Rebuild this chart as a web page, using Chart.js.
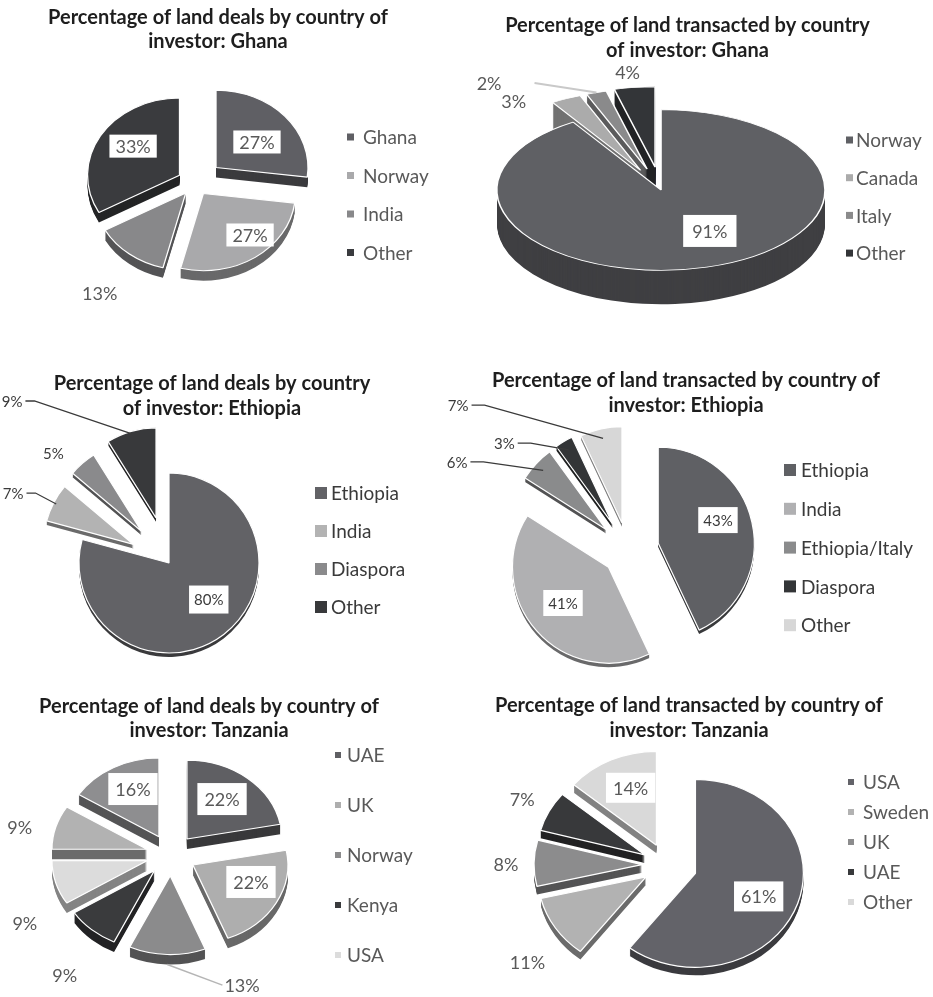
<!DOCTYPE html>
<html>
<head>
<meta charset="utf-8">
<title>Land deals by country of investor</title>
<script src="https://cdn.jsdelivr.net/npm/chart.js@4.4.1/dist/chart.umd.min.js"></script>
<style>
  html, body { margin: 0; padding: 0; background: #ffffff; width: 933px; height: 997px; overflow: hidden; }
  canvas { position: absolute; left: 0; top: 0; }
</style>
</head>
<body>
<canvas id="ghanaDeals" width="933" height="997"></canvas>
<canvas id="ghanaLand" width="933" height="997"></canvas>
<canvas id="ethiopiaDeals" width="933" height="997"></canvas>
<canvas id="ethiopiaLand" width="933" height="997"></canvas>
<canvas id="tanzaniaDeals" width="933" height="997"></canvas>
<canvas id="tanzaniaLand" width="933" height="997"></canvas>
<script>
// ---------- data (percentages) ----------
const ghanaDealsCats = ['Ghana', 'Norway', 'India', 'Other'];
const ghanaDealsPct = [27, 27, 13, 33];

const ghanaLandCats = ['Norway', 'Canada', 'Italy', 'Other'];
const ghanaLandPct = [91, 3, 2, 4];

const ethiopiaDealsCats = ['Ethiopia', 'India', 'Diaspora', 'Other'];
const ethiopiaDealsPct = [80, 7, 5, 9];

const ethiopiaLandCats = ['Ethiopia', 'India', 'Ethiopia/Italy', 'Diaspora', 'Other'];
const ethiopiaLandPct = [43, 41, 6, 3, 7];

// the last two categories are not listed in the legend
const tanzaniaDealsCats = ['UAE', 'UK', 'Norway', 'Kenya', 'USA', 'Other (a)', 'Other (b)'];
const tanzaniaDealsPct = [22, 22, 13, 9, 9, 9, 16];

const tanzaniaLandCats = ['USA', 'Sweden', 'UK', 'UAE', 'Other'];
const tanzaniaLandPct = [61, 11, 8, 7, 14];

// ---------- titles ----------
const ghanaDealsTitle = ['Percentage of land deals by country of', 'investor: Ghana'];
const ghanaLandTitle = ['Percentage of land transacted by country', 'of investor: Ghana'];
const ethiopiaDealsTitle = ['Percentage of land deals by country', 'of investor: Ethiopia'];
const ethiopiaLandTitle = ['Percentage of land transacted by country of', 'investor: Ethiopia'];
const tanzaniaDealsTitle = ['Percentage of land deals by country of', 'investor: Tanzania'];
const tanzaniaLandTitle = ['Percentage of land transacted by country of', 'investor: Tanzania'];

// ---------- presentation ----------
const W = 933, H = 997;
const FONT = 'Lato, "Open Sans", "DejaVu Sans", sans-serif';
const TITLE_COLOR = '#1e1e1e';
const GREY_TEXT = '#595959';
const DARK_TEXT = '#3a3a3a';

// label placement: [fraction of radius, angle shift in degrees] from each exploded slice centre
const specs = [
  {
    id: 'ghanaDeals', cats: ghanaDealsCats, values: ghanaDealsPct,
    fills: ['#5f5f64', '#a9a9ab', '#88888a', '#3a3b3e'],
    cx: 195, cy: 183, r: 92, tilt: 0.84, depth: 10, sideShade: 0.62,
    explode: [28, 15, 15, 18], border: 1.3,
    title: { lines: ghanaDealsTitle, x: 218, y: 23.5, lh: 24.3, size: 20 },
    labels: { size: 18, color: GREY_TEXT, at: [[0.554, 4.9], [0.739, -9.1], [1.6, -2], [0.63, 6.2]],
              boxed: [1, 1, 0, 1], leader: [0, 0, 0, 0], padX: 6, boxH: 23 },
    legend: { x: 347, textX: 363, y: 137, step: 38.5, box: 7, size: 19, color: GREY_TEXT }
  },
  {
    id: 'ghanaLand', cats: ghanaLandCats, values: ghanaLandPct,
    fills: ['#5f6064', '#ababab', '#8a8a8b', '#333538'],
    cx: 661, cy: 190, r: 164, tilt: 0.49, depth: 34, sideShade: 0.66,
    explode: [0, 45, 45, 47], border: 1.6,
    title: { lines: ghanaLandTitle, x: 687.5, y: 32.3, lh: 25, size: 20 },
    labels: { size: 18, color: GREY_TEXT, at: [[0.59, -14.1], [1.16, -14.8], [1.44, -24], [1.19, -0.9]],
              boxed: [1, 0, 0, 0], leader: [0, 0, 1, 0], leaderColor: '#c9c9c9', leaderWidth: 2,
              hook: 0, gap: 33, leaderEnd: 1.0, padX: 9, boxH: 32 },
    legend: { x: 846, textX: 856, y: 140, step: 37.7, box: 7, size: 19, color: GREY_TEXT }
  },
  {
    id: 'ethiopiaDeals', cats: ethiopiaDealsCats, values: ethiopiaDealsPct,
    fills: ['#626266', '#b3b3b3', '#8a8a8c', '#38393b'],
    cx: 169, cy: 563, r: 90, tilt: 1, depth: 4, sideShade: 0.6,
    explode: [0, 40, 42, 47], border: 1.2,
    title: { lines: ethiopiaDealsTitle, x: 212, y: 390, lh: 25, size: 20 },
    labels: { size: 15, color: DARK_TEXT, at: [[0.6, -10], [1.455, -4.5], [1.31, -7.4], [2.06, -34.9]],
              boxed: [1, 0, 0, 0], leader: [0, 1, 0, 1], leaderColor: '#3a3a3a', leaderWidth: 1.3,
              hook: 9, gap: 3, leaderEnd: 0.97, padX: 5, boxH: 28 },
    legend: { x: 315, textX: 331, y: 493, step: 38, box: 12, size: 19, color: DARK_TEXT }
  },
  {
    id: 'ethiopiaLand', cats: ethiopiaLandCats, values: ethiopiaLandPct,
    fills: ['#5f6064', '#b0b0b2', '#8a8b8c', '#333537', '#d7d7d7'],
    cx: 628, cy: 550, r: 96, tilt: 1, depth: 4, sideShade: 0.6,
    explode: [31, 26, 30, 30, 28], border: 1.2,
    title: { lines: ethiopiaLandTitle, x: 686, y: 387, lh: 25, size: 20 },
    labels: { size: 15, color: DARK_TEXT,
              at: [[0.667, -8.6], [0.603, 3.2], [1.705, -18.8], [1.41, -22.6], [2.1, -41.7]],
              boxed: [1, 1, 0, 0, 0], leader: [0, 0, 1, 1, 1], leaderColor: '#3a3a3a', leaderWidth: 1.3,
              hook: 13, gap: 3, leaderEnd: 0.9, padX: 5, boxH: 26 },
    legend: { x: 784, textX: 801, y: 470, step: 38.8, box: 12, size: 19, color: DARK_TEXT }
  },
  {
    id: 'tanzaniaDeals', cats: tanzaniaDealsCats, values: tanzaniaDealsPct,
    fills: ['#5f5f63', '#aeaeae', '#8b8b8c', '#3a3b3d', '#dcdcdc', '#b2b2b2', '#8e8e90'],
    cx: 171, cy: 855, r: 95, tilt: 0.83, depth: 10, sideShade: 0.6,
    explode: [25, 25, 25, 25, 25, 25, 25], border: 1.3,
    title: { lines: tanzaniaDealsTitle, x: 209, y: 713, lh: 24.3, size: 20 },
    labels: { size: 18, color: GREY_TEXT,
              at: [[0.627, -3.5], [0.648, -9.4], [1.58, -30.4], [1.63, -6], [1.51, -15.4], [1.37, -4.3], [0.665, 4.5]],
              boxed: [1, 1, 0, 0, 0, 0, 1], leader: [0, 0, 1, 0, 0, 0, 0], leaderColor: '#b5b5b5',
              leaderWidth: 1.5, hook: 0, gap: 2, leaderEnd: 1.0, leaderDrop: 10, padX: 7, boxH: 32 },
    legend: { x: 335, textX: 347, y: 755, step: 50, box: 6, size: 19, color: GREY_TEXT, max: 5 }
  },
  {
    id: 'tanzaniaLand', cats: tanzaniaLandCats, values: tanzaniaLandPct,
    fills: ['#636369', '#b2b2b2', '#8c8c8d', '#38393b', '#d9d9d9'],
    cx: 667, cy: 865, r: 108, tilt: 0.87, depth: 8, sideShade: 0.6,
    explode: [30, 25, 25, 25, 25], border: 1.3,
    title: { lines: tanzaniaLandTitle, x: 689, y: 712, lh: 25, size: 20 },
    labels: { size: 18, color: GREY_TEXT,
              at: [[0.635, 4], [1.424, -6.6], [1.26, -0.9], [1.28, -0.2], [0.657, 3.6]],
              boxed: [1, 0, 0, 0, 1], leader: [0, 0, 0, 0, 0], padX: 7, boxH: 30 },
    legend: { x: 848, textX: 863, y: 782, step: 30, box: 6, size: 19, color: GREY_TEXT }
  }
];

function shade(hex, f) {
  const n = parseInt(hex.slice(1), 16);
  const r = Math.round(((n >> 16) & 255) * f);
  const g = Math.round(((n >> 8) & 255) * f);
  const b = Math.round((n & 255) * f);
  return 'rgb(' + r + ',' + g + ',' + b + ')';
}

function midAngle(arc) { return (arc.startAngle + arc.endAngle) / 2; }

// Tilted, extruded pie: walls are stacked copies of each arc, then the top faces.
function tiltedPie(spec) {
  return {
    id: 'tiltedPie',
    beforeDatasetsDraw(chart) {
      const ctx = chart.ctx;
      const arcs = chart.getDatasetMeta(0).data;
      if (!arcs.length) return false;
      const cx = arcs[0].x, cy = arcs[0].y, k = spec.tilt;
      const shift = (arc, i) => {
        const m = midAngle(arc), e = spec.explode[i] || 0;
        return [Math.cos(m) * e, Math.sin(m) * e];
      };
      ctx.save();
      ctx.translate(cx, cy);
      ctx.scale(1, k);
      ctx.translate(-cx, -cy);
      for (let d = spec.depth; d >= 1; d--) {
        arcs.forEach((arc, i) => {
          const [dx, dy] = shift(arc, i);
          const col = shade(spec.fills[i], spec.sideShade);
          const wall = Object.create(arc);
          wall.options = Object.assign({}, arc.options,
            { backgroundColor: col, borderColor: col, borderWidth: 0, offset: 0 });
          ctx.save();
          ctx.translate(dx, dy + d / k);
          wall.draw(ctx);
          ctx.restore();
        });
      }
      arcs.forEach((arc, i) => {
        const [dx, dy] = shift(arc, i);
        ctx.save();
        ctx.translate(dx, dy);
        arc.draw(ctx);
        ctx.restore();
      });
      ctx.restore();
      return false;
    }
  };
}

// Title, legend and percentage labels
function pieText(spec) {
  return {
    id: 'pieText',
    afterDraw(chart) {
      const ctx = chart.ctx;
      const arcs = chart.getDatasetMeta(0).data;
      const cx = arcs[0].x, cy = arcs[0].y, k = spec.tilt;
      const toScreen = (i, ang, dist) => {
        const m = midAngle(arcs[i]), e = spec.explode[i] || 0;
        const fx = cx + Math.cos(m) * e + Math.cos(ang) * dist;
        const fy = cy + Math.sin(m) * e + Math.sin(ang) * dist;
        return [fx, cy + (fy - cy) * k];
      };
      ctx.save();

      // title
      const T = spec.title;
      ctx.font = 'bold ' + T.size + 'px ' + FONT;
      ctx.fillStyle = TITLE_COLOR;
      ctx.textAlign = 'center';
      ctx.textBaseline = 'alphabetic';
      T.lines.forEach((line, i) => ctx.fillText(line, T.x, T.y + i * T.lh));

      // legend
      const G = spec.legend;
      ctx.font = G.size + 'px ' + FONT;
      ctx.textAlign = 'left';
      ctx.textBaseline = 'middle';
      const n = Math.min(spec.cats.length, G.max || spec.cats.length);
      for (let i = 0; i < n; i++) {
        const y = G.y + i * G.step;
        ctx.fillStyle = spec.fills[i];
        ctx.fillRect(G.x, y - G.box / 2, G.box, G.box);
        ctx.fillStyle = G.color;
        ctx.fillText(spec.cats[i], G.textX, y + 1);
      }

      // data labels
      const L = spec.labels;
      ctx.font = L.size + 'px ' + FONT;
      ctx.textAlign = 'center';
      ctx.textBaseline = 'middle';
      arcs.forEach((arc, i) => {
        const f = L.at[i][0], dA = L.at[i][1] * Math.PI / 180;
        const m = midAngle(arc);
        const [lx, ly] = toScreen(i, m + dA, arc.outerRadius * f);
        const text = chart.data.datasets[0].data[i] + '%';
        const tw = ctx.measureText(text).width;
        if (L.leader[i]) {
          const [ex, ey0] = toScreen(i, m, arc.outerRadius * L.leaderEnd);
          const ey = ey0 + (L.leaderDrop || 0);
          const dir = ex >= lx ? 1 : -1;
          const sx = lx + dir * (tw / 2 + L.gap);
          ctx.beginPath();
          ctx.moveTo(sx, ly);
          ctx.lineTo(sx + dir * L.hook, ly);
          ctx.lineTo(ex, ey);
          ctx.strokeStyle = L.leaderColor;
          ctx.lineWidth = L.leaderWidth;
          ctx.stroke();
        }
        if (L.boxed[i]) {
          ctx.fillStyle = '#ffffff';
          ctx.fillRect(lx - tw / 2 - L.padX, ly - L.boxH / 2, tw + 2 * L.padX, L.boxH);
        }
        ctx.fillStyle = L.color;
        ctx.fillText(text, lx, ly + 1);
      });
      ctx.restore();
    }
  };
}

function build(spec) {
  const s = Math.min(spec.cx, W - spec.cx, spec.cy, H - spec.cy) - 2;
  return new Chart(document.getElementById(spec.id), {
    type: 'pie',
    data: {
      labels: spec.cats,
      datasets: [{
        data: spec.values,
        backgroundColor: spec.fills,
        borderColor: '#ffffff',
        borderWidth: spec.border,
        offset: 0,
        hoverOffset: 0,
        radius: spec.r,
        clip: false
      }]
    },
    options: {
      responsive: false,
      animation: false,
      events: [],
      layout: {
        padding: { left: spec.cx - s, right: W - spec.cx - s, top: spec.cy - s, bottom: H - spec.cy - s }
      },
      plugins: {
        legend: { display: false },
        title: { display: false },
        tooltip: { enabled: false }
      }
    },
    plugins: [tiltedPie(spec), pieText(spec)]
  });
}

const ready = (document.fonts && document.fonts.load)
  ? Promise.all([document.fonts.load('18px Lato'), document.fonts.load('bold 20px Lato')]).catch(() => null)
  : Promise.resolve();
ready.then(() => specs.forEach(build));
</script>
</body>
</html>
